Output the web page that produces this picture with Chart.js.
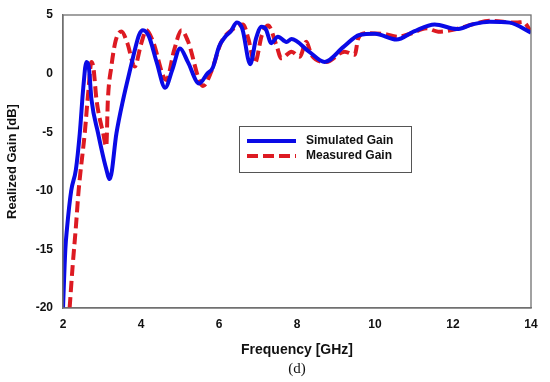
<!DOCTYPE html>
<html>
<head>
<meta charset="utf-8">
<script src="https://cdn.jsdelivr.net/npm/chart.js@4.4.0/dist/chart.umd.min.js"></script>
<style>
  body { margin: 0; background: #fff; }
  #wrap { position: relative; width: 550px; height: 382px; }
  #caption { position: absolute; left: 0; width: 594px; top: 360px; text-align: center;
    font-family: "Liberation Serif", "DejaVu Serif", serif; font-size: 15px; color: #111; }
</style>
</head>
<body>
<div id="wrap">
  <canvas id="gain-chart" width="550" height="382"></canvas>
  <div id="caption">(d)</div>
</div>
<script>
// Datos
const simFreq = [2.0, 2.06, 2.1, 2.21, 2.33, 2.43, 2.52, 2.6, 2.66, 2.73, 2.9, 3.09, 3.2, 3.37, 3.54, 3.74, 3.84, 3.95, 4.05, 4.2, 4.4, 4.62, 4.8, 5.0, 5.2, 5.49, 5.7, 5.84, 6.0, 6.15, 6.3, 6.46, 6.6, 6.8, 6.95, 7.09, 7.2, 7.34, 7.51, 7.73, 7.86, 8.3, 8.71, 9.2, 9.6, 10.0, 10.55, 11.0, 11.53, 12.1, 12.5, 12.94, 13.45, 14.0];
const simGain = [-20, -15, -13.3, -10, -8.2, -5.1, -1.2, 1.0, 0.6, -2.2, -5.1, -7.9, -9.0, -5.1, -2.25, 0.6, 2.0, 3.3, 3.7, 3.2, 1.0, -1.2, 0.3, 2.15, 1.0, -0.85, 0.0, 0.5, 2.3, 3.1, 3.6, 4.35, 3.8, 0.8, 3.0, 4.0, 3.8, 2.6, 3.15, 2.7, 2.95, 1.9, 1.0, 2.3, 3.3, 3.4, 2.9, 3.6, 4.2, 3.8, 4.2, 4.43, 4.35, 3.5];

const measFreq = [2.17, 2.25, 2.33, 2.4, 2.56, 2.65, 2.73, 2.78, 2.86, 3.03, 3.11, 3.15, 3.24, 3.35, 3.5, 3.65, 3.84, 4.0, 4.14, 4.3, 4.65, 4.85, 5.04, 5.2, 5.59, 5.8, 6.06, 6.32, 6.62, 6.75, 6.92, 7.1, 7.26, 7.47, 7.6, 7.86, 8.07, 8.24, 8.37, 8.75, 9.22, 9.48, 9.57, 9.74, 10.2, 10.59, 10.9, 11.32, 11.62, 12.09, 12.5, 12.94, 13.63, 13.8, 14.0];
const measGain = [-20, -16.3, -13.1, -10, -5, -1.5, 1.0, 0.5, -2.25, -5.1, -6.2, -2.3, 0.6, 2.8, 3.6, 2.6, 0.6, 2.5, 3.7, 2.8, -0.55, 2.0, 3.7, 2.8, -1.06, 0.16, 2.7, 3.7, 4.2, 3.0, 0.9, 3.3, 4.1, 2.44, 1.3, 1.87, 1.44, 2.72, 1.59, 1.0, 1.87, 1.6, 3.0, 3.44, 3.4, 3.15, 3.4, 3.86, 3.58, 3.8, 4.2, 4.5, 4.35, 4.4, 3.58];

const xTicks = [2, 4, 6, 8, 10, 12, 14];
const yTicks = [-20, -15, -10, -5, 0, 5];

const toPoints = (xs, ys) => xs.map((x, i) => ({ x: x, y: ys[i] }));

// Marco completo alrededor del area del grafico + leyenda interna
const framePlugin = {
    id: 'frame',
    afterDatasetsDraw(chart) {
        const { ctx, chartArea: a } = chart;
        ctx.save();
        ctx.strokeStyle = '#707070';
        ctx.lineWidth = 1.3;
        ctx.strokeRect(a.left, a.top, a.right - a.left, a.bottom - a.top);

        // leyenda
        const bx = 239, by = 126, bw = 172, bh = 46;
        ctx.fillStyle = '#fff';
        ctx.fillRect(bx, by, bw, bh);
        ctx.strokeStyle = '#555';
        ctx.lineWidth = 1;
        ctx.strokeRect(bx + 0.5, by + 0.5, bw, bh);
        ctx.font = 'bold 12px "Liberation Sans", Arial, sans-serif';
        ctx.textBaseline = 'middle';
        chart.data.datasets.forEach((ds, i) => {
            const y = by + 15 + i * 15;
            ctx.strokeStyle = ds.borderColor;
            ctx.lineWidth = ds.borderWidth;
            ctx.setLineDash(ds.borderDash || []);
            ctx.beginPath();
            ctx.moveTo(bx + 8, y);
            ctx.lineTo(bx + 57, y);
            ctx.stroke();
            ctx.setLineDash([]);
            ctx.fillStyle = '#111';
            ctx.fillText(ds.label, bx + 67, y);
        });
        ctx.restore();
    }
};

const ctx = document.getElementById('gain-chart').getContext('2d');
new Chart(ctx, {
    type: 'line',
    data: {
        datasets: [{
            label: 'Simulated Gain',
            data: toPoints(simFreq, simGain),
            borderColor: '#0a0ae6',
            borderWidth: 4,
            pointRadius: 0,
            cubicInterpolationMode: 'monotone',
            fill: false
        }, {
            label: 'Measured Gain',
            data: toPoints(measFreq, measGain),
            borderColor: '#dd1a22',
            borderWidth: 4,
            borderDash: [11, 5],
            pointRadius: 0,
            cubicInterpolationMode: 'monotone',
            fill: false
        }]
    },
    options: {
        responsive: false,
        animation: false,
        layout: { padding: { left: 0, right: 19, top: 15, bottom: 0 } },
        plugins: {
            legend: { display: false },
            tooltip: { enabled: false }
        },
        scales: {
            x: {
                type: 'linear',
                min: 2,
                max: 14,
                afterFit: s => { s.height = 74; },
                afterBuildTicks: s => { s.ticks = xTicks.map(v => ({ value: v })); },
                grid: { display: false, drawOnChartArea: false, drawTicks: true, tickLength: 5, tickColor: '#707070' },
                border: { display: true, color: '#707070', width: 1.3 },
                ticks: {
                    color: '#111',
                    padding: 4,
                    maxRotation: 0,
                    font: { family: '"Liberation Sans", Arial, sans-serif', size: 12, weight: 'bold' }
                },
                title: {
                    display: true,
                    text: 'Frequency [GHz]',
                    color: '#111',
                    padding: { top: 0, bottom: 23 },
                    font: { family: '"Liberation Sans", Arial, sans-serif', size: 14, weight: 'bold' }
                }
            },
            y: {
                min: -20,
                max: 5,
                afterFit: s => { s.width = 63; },
                afterBuildTicks: s => { s.ticks = yTicks.map(v => ({ value: v })); },
                grid: { display: false, drawOnChartArea: false, drawTicks: true, tickLength: 5, tickColor: '#707070' },
                border: { display: true, color: '#707070', width: 1.3 },
                ticks: {
                    color: '#111',
                    padding: 5,
                    font: { family: '"Liberation Sans", Arial, sans-serif', size: 12, weight: 'bold' }
                },
                title: {
                    display: true,
                    text: 'Realized Gain [dB]',
                    color: '#111',
                    padding: { top: 5, bottom: 0 },
                    font: { family: '"Liberation Sans", Arial, sans-serif', size: 13, weight: 'bold' }
                }
            }
        }
    },
    plugins: [framePlugin]
});
</script>
</body>
</html>
